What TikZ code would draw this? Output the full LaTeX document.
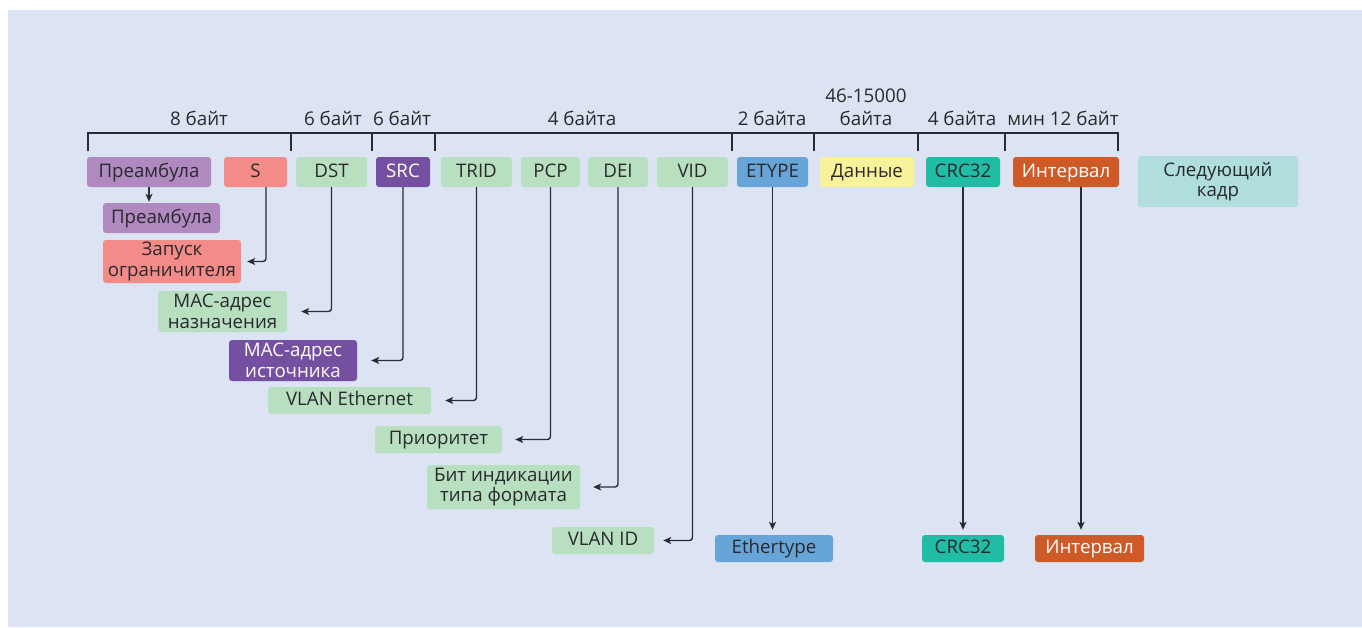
\documentclass[tikz,border=0pt]{standalone}
\usepackage{fontspec}
\setmainfont{Open Sans}
\usetikzlibrary{arrows.meta,calc}
\definecolor{bgc}{HTML}{DCE3F2}
\definecolor{txt}{HTML}{2A2A2E}
\definecolor{lc}{HTML}{2B2B33}
\definecolor{cpur}{HTML}{AF89C0}
\definecolor{csal}{HTML}{F38B88}
\definecolor{cgrn}{HTML}{B7DFC0}
\definecolor{cdpur}{HTML}{7650A0}
\definecolor{cblue}{HTML}{67A5D9}
\definecolor{cyel}{HTML}{F8F39B}
\definecolor{cteal}{HTML}{21BCA6}
\definecolor{corg}{HTML}{CE5A28}
\definecolor{clteal}{HTML}{B0DEDC}
\newcommand\mybox[7]{\node[box,#2,minimum width={#5-#3},minimum height={#6-#4}] (#1) at ({(#3+#5)/2},{(#4+#6)/2}) {#7};}
\begin{document}
\begin{tikzpicture}[x=1pt,y=-1pt,
  box/.style={rectangle, rounded corners=3pt, inner sep=0pt, align=center,
    font=\fontsize{18.7}{20.5}\selectfont, text=txt},
  one/.style={text height=13pt, text depth=3pt},
  wt/.style={text=white},
  conn/.style={draw=lc, line width=1.4pt, rounded corners=3pt,
    -{Stealth[length=8pt,width=7pt,inset=2pt]}},
  brk/.style={draw=lc, line width=1.4pt},
  lab/.style={anchor=base, font=\fontsize{18.8}{23}\selectfont, text=txt, align=center}]
\useasboundingbox (0,0) rectangle (1362,627);
\fill[bgc] (8,10) rectangle (1362,627);
% bracket
\draw[brk] (88,151) -- (88,133) -- (1118,133) -- (1118,151);
\foreach \t in {291,372,435,732,814,918,1005} \draw[brk] (\t,133) -- (\t,151);
% size labels
\node[lab] (l1) at (199,125) {8 байт};
\node[lab] (l2) at (333,125) {6 байт};
\node[lab] (l3) at (402,125) {6 байт};
\node[lab] (l4) at (582,125) {4 байта};
\node[lab] (l5) at (772,125) {2 байта};
\node[lab, anchor=base] (l6) at (866,125) {46-15000\\байта};
\node[lab] (l7) at (962,125) {4 байта};
\node[lab] (l8) at (1063,125) {мин 12 байт};
% first row
\mybox{pre}{fill=cpur,one}{87}{157}{211}{187}{Преамбула}
\mybox{s}{fill=csal,one}{224}{157}{287}{187}{S}
\mybox{dst}{fill=cgrn,one}{296}{157}{367}{187}{DST}
\mybox{src}{fill=cdpur,wt,one}{376}{157}{430}{187}{SRC}
\mybox{trid}{fill=cgrn,one}{441}{157}{512}{187}{TRID}
\mybox{pcp}{fill=cgrn,one}{521}{157}{580}{187}{PCP}
\mybox{dei}{fill=cgrn,one}{588}{157}{648}{187}{DEI}
\mybox{vid}{fill=cgrn,one}{657}{157}{728}{187}{VID}
\mybox{etype}{fill=cblue,one}{737}{157}{808}{187}{ETYPE}
\mybox{data}{fill=cyel,one}{820}{157}{914}{187}{Данные}
\mybox{crc}{fill=cteal,one}{926}{157}{1000}{187}{CRC32}
\mybox{int}{fill=corg,wt,one}{1013}{157}{1119}{187}{Интервал}
\mybox{next}{fill=clteal}{1138}{156}{1298}{207}{Следующий\\кадр}
% detail boxes
\mybox{pre2}{fill=cpur,one}{103}{203}{220}{233}{Преамбула}
\mybox{zap}{fill=csal}{103}{240}{241}{283}{Запуск\\ограничителя}
\mybox{mdst}{fill=cgrn}{158}{291}{287}{332}{MAC-адрес\\назначения}
\mybox{msrc}{fill=cdpur,wt}{229}{340}{357}{381}{MAC-адрес\\источника}
\mybox{vlan}{fill=cgrn,one}{268}{387}{431}{414}{VLAN Ethernet}
\mybox{prio}{fill=cgrn,one}{375}{426}{502}{453}{Приоритет}
\mybox{bit}{fill=cgrn}{427}{465}{580}{509}{Бит индикации\\типа формата}
\mybox{vid2}{fill=cgrn,one}{552}{527}{654}{554}{VLAN ID}
\mybox{eth}{fill=cblue,one}{715}{535}{833}{562}{Ethertype}
\mybox{crc2}{fill=cteal,one}{922}{535}{1004}{562}{CRC32}
\mybox{int2}{fill=corg,wt,one}{1035}{535}{1144}{562}{Интервал}
% connectors
\draw[conn] (pre.south) -- ($(pre.south |- pre2.north)+(0,-1)$);
\draw[conn] ([xshift=10.5pt]s.south) |- ([xshift=6pt]zap.east);
\draw[conn] (dst.south) |- ([xshift=14pt]mdst.east);
\draw[conn] (src.south) |- ([xshift=14pt]msrc.east);
\draw[conn] (trid.south) |- ([xshift=14pt]vlan.east);
\draw[conn] (pcp.south) |- ([xshift=13pt]prio.east);
\draw[conn] (dei.south) |- ([xshift=13pt]bit.east);
\draw[conn] (vid.south) |- ([xshift=9pt]vid2.east);
\draw[conn] (etype.south) -- ($(etype.south |- eth.north)+(0,-5)$);
\draw[conn] (crc.south) -- ($(crc.south |- crc2.north)+(0,-5)$);
\coordinate (intx) at ([xshift=15pt]int.south);
\draw[conn] (intx) -- ($(intx |- int2.north)+(0,-5)$);
\end{tikzpicture}
\end{document}
